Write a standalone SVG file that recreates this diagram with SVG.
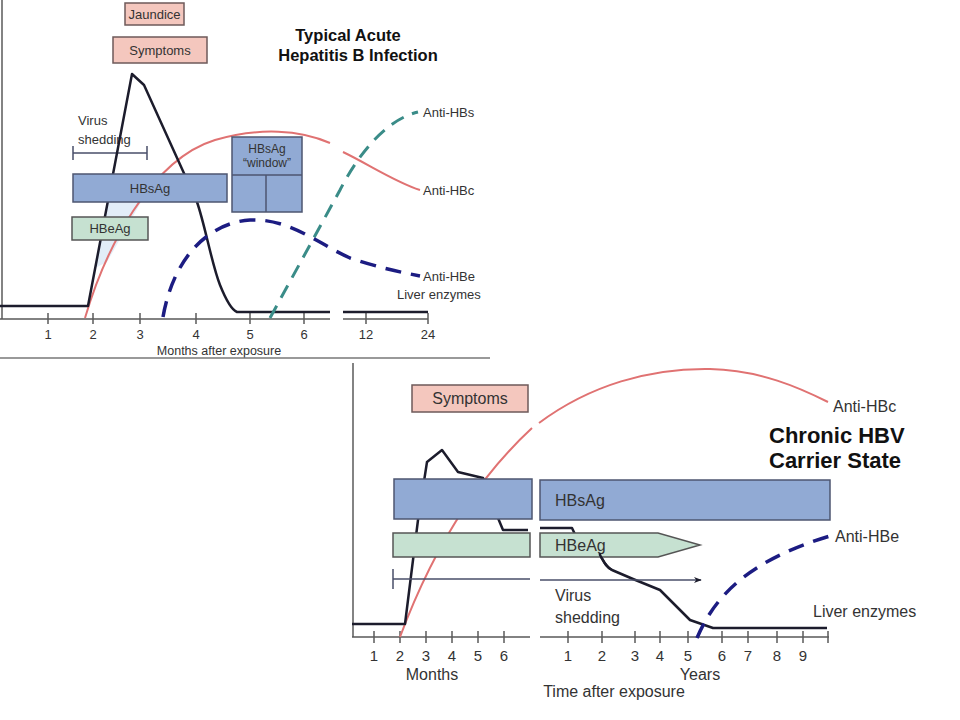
<svg xmlns="http://www.w3.org/2000/svg" width="960" height="720" viewBox="0 0 960 720">
<defs>
<style>
.lbl{font-family:"Liberation Sans",Arial,sans-serif;fill:#333;}
.s13{font-size:13px;}
.s16{font-size:16px;}
.title{font-family:"Liberation Sans",Arial,sans-serif;font-weight:bold;fill:#111;}
.pink{fill:#f4c7be;stroke:#6e5a5a;stroke-width:1.5;}
.blue{fill:#91aad4;stroke:#4d5670;stroke-width:1.5;}
.green{fill:#c6e1d1;stroke:#555;stroke-width:1.5;}
.axis{stroke:#5a5a5a;stroke-width:1.5;fill:none;}
.tick{stroke:#5a5a5a;stroke-width:1.5;}
.red{stroke:#e07272;stroke-width:2;fill:none;}
.blk{stroke:#1c1c2c;stroke-width:2.5;fill:none;stroke-linejoin:round;}
.navy{stroke:#1c1c82;stroke-width:3.5;fill:none;stroke-dasharray:16 10;}
.teal{stroke:#3a8c88;stroke-width:3;fill:none;stroke-dasharray:14 9;}
.shed{stroke:#4a4f6a;stroke-width:1.5;fill:none;}
</style>
<marker id="arr" viewBox="0 0 10 10" refX="9" refY="5" markerWidth="8" markerHeight="8" orient="auto" markerUnits="userSpaceOnUse">
<path d="M0,1 L10,5 L0,9 L3,5 Z" fill="#1c1c2c"/>
</marker>
</defs>
<rect width="960" height="720" fill="#ffffff"/>

<g id="top-axes">
<line class="axis" x1="2" y1="0" x2="2" y2="319"/>
<path class="axis" d="M0,319 H330 M343,319 H428"/>
<g class="tick">
<line x1="48" y1="313" x2="48" y2="324"/>
<line x1="93" y1="313" x2="93" y2="324"/>
<line x1="140" y1="313" x2="140" y2="324"/>
<line x1="196" y1="313" x2="196" y2="324"/>
<line x1="250" y1="313" x2="250" y2="324"/>
<line x1="304" y1="313" x2="304" y2="324"/>
<line x1="366" y1="313" x2="366" y2="324"/>
<line x1="428" y1="313" x2="428" y2="324"/>
</g>
<g class="lbl s13" text-anchor="middle">
<text x="48" y="339">1</text>
<text x="93" y="339">2</text>
<text x="140" y="339">3</text>
<text x="196" y="339">4</text>
<text x="250" y="339">5</text>
<text x="304" y="339">6</text>
<text x="366" y="339">12</text>
<text x="428" y="339">24</text>
</g>
<text class="lbl" font-size="12.5" x="219" y="355" text-anchor="middle">Months after exposure</text>
<line x1="0" y1="358" x2="490" y2="358" stroke="#777" stroke-width="1.5"/>
</g>

<g id="top-jaundice">
<rect class="pink" x="125" y="3" width="59" height="22"/>
<text class="lbl s13" x="154.5" y="19" text-anchor="middle">Jaundice</text>
</g>
<g id="top-symptoms">
<rect class="pink" x="113" y="37" width="94" height="26"/>
<text class="lbl s13" x="160" y="55" text-anchor="middle">Symptoms</text>
</g>
<g id="top-title">
<text class="title" x="348" y="41" font-size="16.5" text-anchor="middle">Typical Acute</text>
<text class="title" x="358" y="61" font-size="16.5" text-anchor="middle">Hepatitis B Infection</text>
</g>
<g id="top-virus-shedding">
<text class="lbl s13" x="78" y="125">Virus</text>
<text class="lbl s13" x="78" y="144">shedding</text>
<path class="shed" d="M73,153 H147 M73,146 V160 M147,146 V160"/>
</g>

<polygon points="95,268 107,202 141,202 107,262" fill="#e2edf8"/>

<g id="connectors">
<path class="red" d="M85,318 C105,250 150,160 215,140 C260,127 300,130 330,143 M343,152 C370,165 395,182 420,190"/>
<path class="blk" d="M0,306 L88,306 L132,74 L144,85 L197,202 C205,225 212,265 220,285 C226,300 232,310 237,312 L330,312 M343,312 L428,312"/>
<path class="teal" d="M270,318 L340,190 C358,155 385,120 418,112"/>
<path class="navy" d="M163,317 C175,250 215,222 250,220 C290,218 320,245 350,258 C380,268 400,272 420,276"/>
</g>

<g id="top-hbsag">
<rect class="blue" x="73" y="174" width="154" height="28"/>
<text class="lbl s13" x="150" y="193" text-anchor="middle">HBsAg</text>
</g>
<g id="top-hbeag">
<rect class="green" x="72" y="217" width="76" height="23"/>
<text class="lbl s13" x="110" y="233" text-anchor="middle">HBeAg</text>
</g>
<g id="top-window">
<rect class="blue" x="232" y="137" width="70" height="75"/>
<path stroke="#4d5670" stroke-width="1.5" d="M232,175 H302 M266,175 V212"/>
<text class="lbl" font-size="12" x="267" y="153" text-anchor="middle">HBsAg</text>
<text class="lbl" font-size="12" x="267" y="167" text-anchor="middle">“window”</text>
</g>
<g id="top-labels" class="lbl s13">
<text x="423" y="117">Anti-HBs</text>
<text x="423" y="195">Anti-HBc</text>
<text x="423" y="281">Anti-HBe</text>
<text x="397" y="299">Liver enzymes</text>
</g>

<g id="bottom-axes">
<line class="axis" x1="353" y1="363" x2="353" y2="637"/>
<path class="axis" d="M352,637 H530 M540,637 H829"/>
<g class="tick">
<line x1="374" y1="631" x2="374" y2="643"/>
<line x1="400" y1="631" x2="400" y2="643"/>
<line x1="426" y1="631" x2="426" y2="643"/>
<line x1="452" y1="631" x2="452" y2="643"/>
<line x1="478" y1="631" x2="478" y2="643"/>
<line x1="504" y1="631" x2="504" y2="643"/>
<line x1="568" y1="631" x2="568" y2="643"/>
<line x1="602" y1="631" x2="602" y2="643"/>
<line x1="635" y1="631" x2="635" y2="643"/>
<line x1="660" y1="631" x2="660" y2="643"/>
<line x1="688" y1="631" x2="688" y2="643"/>
<line x1="722" y1="631" x2="722" y2="643"/>
<line x1="748" y1="631" x2="748" y2="643"/>
<line x1="777" y1="631" x2="777" y2="643"/>
<line x1="803" y1="631" x2="803" y2="643"/>
<line x1="828" y1="631" x2="828" y2="643"/>
</g>
<g class="lbl" font-size="15" text-anchor="middle">
<text x="374" y="661">1</text>
<text x="400" y="661">2</text>
<text x="426" y="661">3</text>
<text x="452" y="661">4</text>
<text x="478" y="661">5</text>
<text x="504" y="661">6</text>
<text x="568" y="661">1</text>
<text x="602" y="661">2</text>
<text x="635" y="661">3</text>
<text x="660" y="661">4</text>
<text x="688" y="661">5</text>
<text x="722" y="661">6</text>
<text x="748" y="661">7</text>
<text x="777" y="661">8</text>
<text x="803" y="661">9</text>
</g>
<g class="lbl s16" text-anchor="middle">
<text x="432" y="680">Months</text>
<text x="700" y="680">Years</text>
<text x="614" y="697">Time after exposure</text>
</g>
</g>

<g id="bottom-connectors">
<path class="red" d="M400,637 C425,570 465,490 532,428 M539,423 C590,385 650,368 710,369 C760,370 800,388 828,402"/>
<path class="blk" d="M352,624 L405,624 L418,520 L427,462 L442,450 L458,472 L483,478 L498,518 L503,530 L528,530 M540,528 L572,528 L580,545 L600,555 C604,562 606,567 612,570 L633,579 L660,590 L690,620 L713,628 L827,628"/>
</g>

<g id="bottom-symptoms">
<rect class="pink" x="412" y="385" width="116" height="27"/>
<text class="lbl s16" x="470" y="404" text-anchor="middle">Symptoms</text>
</g>
<g id="bottom-title">
<text class="title" x="769" y="443" font-size="22">Chronic HBV</text>
<text class="title" x="769" y="468" font-size="22">Carrier State</text>
</g>
<g id="bottom-hbsag">
<rect class="blue" x="394" y="479" width="138" height="40"/>
<rect class="blue" x="540" y="480" width="290" height="40"/>
<text class="lbl s16" x="555" y="506">HBsAg</text>
</g>
<g id="bottom-hbeag">
<rect class="green" x="393" y="533" width="137" height="24"/>
<path class="green" d="M540,533 H658 L700,545 L658,557 H540 Z"/>
<text class="lbl s16" x="555" y="551">HBeAg</text>
</g>
<path class="blk" d="M600,553 L600,555 C604,562 606,567 612,570" />
<g id="bottom-virus-shedding">
<path class="shed" d="M393,579 H530 M393,569 V589"/>
<line class="shed" x1="540" y1="580" x2="701" y2="580" marker-end="url(#arr)"/>
<text class="lbl s16" x="555" y="601">Virus</text>
<text class="lbl s16" x="555" y="623">shedding</text>
</g>
<g id="bottom-anti-hbe-curve">
<path class="navy" d="M697,638 C715,595 750,560 830,536"/>
</g>
<g id="bottom-labels" class="lbl s16">
<text x="833" y="412">Anti-HBc</text>
<text x="835" y="542">Anti-HBe</text>
<text x="813" y="617">Liver enzymes</text>
</g>
</svg>
